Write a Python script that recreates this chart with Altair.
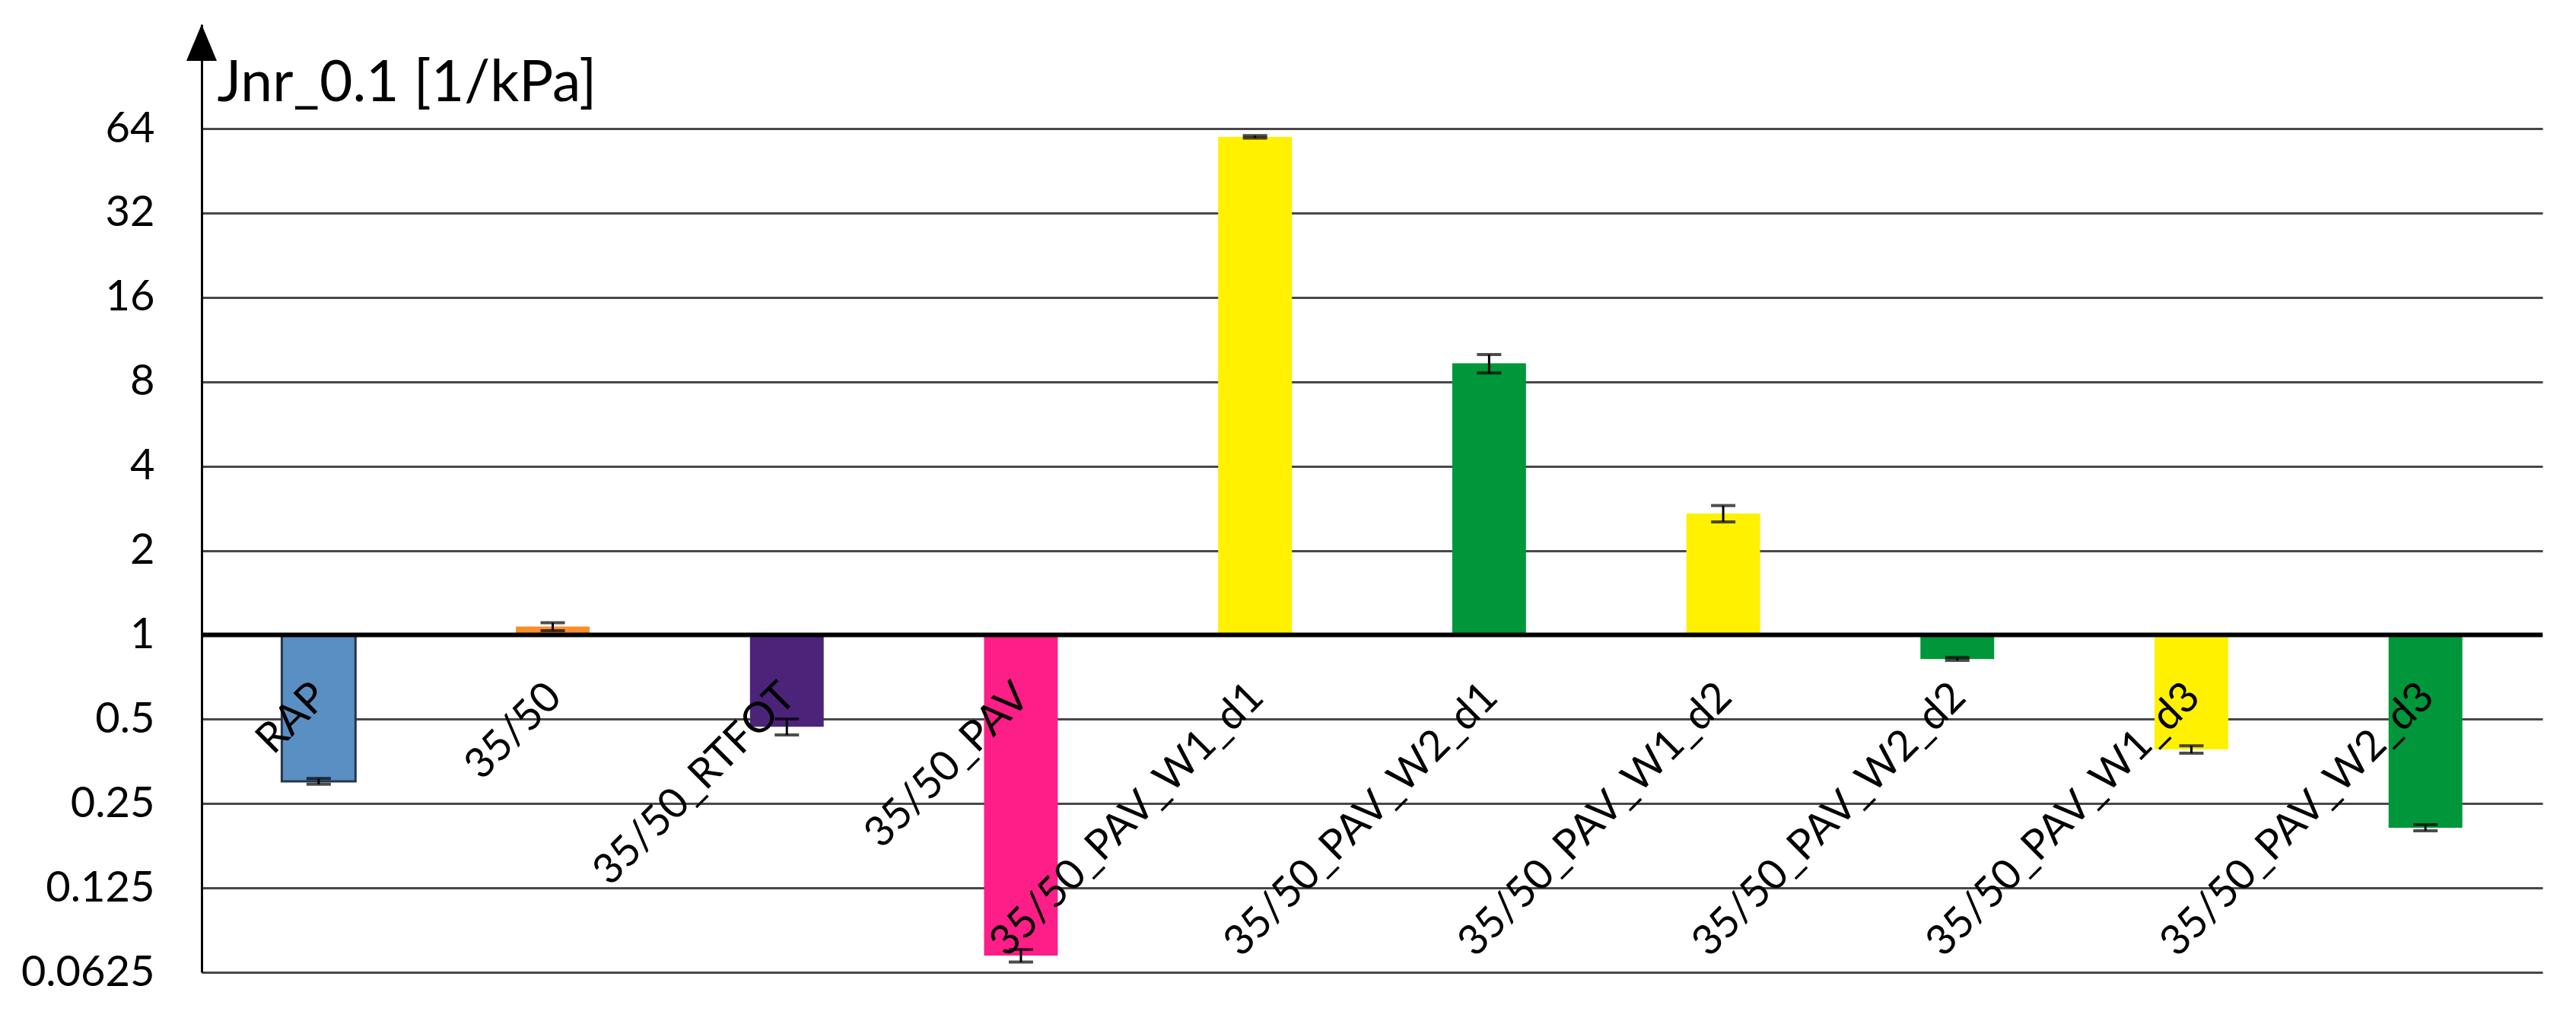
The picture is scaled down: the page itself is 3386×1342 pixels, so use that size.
import altair as alt
import pandas as pd

categories = ["RAP", "35/50", "35/50_RTFOT", "35/50_PAV", "35/50_PAV_W1_d1",
              "35/50_PAV_W2_d1", "35/50_PAV_W1_d2", "35/50_PAV_W2_d2",
              "35/50_PAV_W1_d3", "35/50_PAV_W2_d3"]
values = [0.300, 1.07, 0.47, 0.0717, 59.8, 9.3, 2.71, 0.82, 0.39, 0.205]
errors = [0.007, 0.035, 0.031, 0.0037, 0.6, 0.7, 0.18, 0.01, 0.012, 0.005]
colors = ["#5a8fc3", "#f7902c", "#4b2479", "#fe1e87", "#fff100",
          "#00963a", "#fff100", "#00963a", "#fff100", "#00963a"]
strokes = ["#26364a", "transparent", "transparent", "transparent", "transparent",
           "transparent", "transparent", "transparent", "transparent", "transparent"]
tick_values = [0.0625, 0.125, 0.25, 0.5, 1, 2, 4, 8, 16, 32, 64]
baseline_value = 1.0

df = pd.DataFrame({"cat": categories, "val": values, "err": errors,
                   "color": colors, "stroke": strokes})
df["lo"] = df["val"] - df["err"]
df["hi"] = df["val"] + df["err"]
df["base"] = baseline_value

one = pd.DataFrame({"one": [baseline_value]})

FONT = "Lato"
yscale = alt.Scale(type="log", base=2, domain=[0.0625, 150.7], nice=False)
yaxis = alt.Axis(values=tick_values, format="~g", ticks=False,
                 domain=True, domainColor="black", domainWidth=3,
                 grid=True, gridColor="#4b464b", gridWidth=3,
                 labelFont=FONT, labelFontSize=56, labelColor="black",
                 labelPadding=62, labelBaseline="middle",
                 title="Jnr_0.1 [1/kPa]", titleFont=FONT, titleFontSize=75,
                 titleFontWeight="normal", titleColor="black", titleAngle=0,
                 titleAlign="left", titleBaseline="alphabetic",
                 titleX=20, titleY=100)
xenc = alt.X("cat:N", sort=categories, axis=None,
             scale=alt.Scale(paddingInner=0.685, paddingOuter=0.3425))

base = alt.Chart(df)

bars = base.mark_bar(strokeWidth=3).encode(
    x=xenc,
    y=alt.Y("val:Q", scale=yscale, axis=yaxis),
    y2="base:Q",
    color=alt.Color("color:N", scale=None),
    stroke=alt.Stroke("stroke:N", scale=None),
)

err_rule = base.mark_rule(color="black", strokeWidth=3).encode(
    x=xenc, y=alt.Y("lo:Q", scale=yscale, axis=yaxis), y2="hi:Q")
cap_lo = base.mark_tick(color="black", thickness=4, size=32).encode(
    x=xenc, y=alt.Y("lo:Q", scale=yscale, axis=yaxis))
cap_hi = base.mark_tick(color="black", thickness=4, size=32).encode(
    x=xenc, y=alt.Y("hi:Q", scale=yscale, axis=yaxis))

one_line = alt.Chart(one).mark_rule(color="black", strokeWidth=6).encode(
    y=alt.Y("one:Q", scale=yscale, axis=yaxis))

labels = base.mark_text(align="right", baseline="alphabetic", angle=315,
                        font=FONT, fontSize=55, color="black",
                        dx=-50, dy=70).encode(
    x=xenc, y=alt.Y("base:Q", scale=yscale, axis=yaxis), text="cat:N")

arrow = alt.Chart(one).mark_point(
    shape="M0,-1.2L1,1.2L-1,1.2Z", size=1600, filled=True,
    color="black", opacity=1, strokeWidth=0).encode(
    x=alt.value(0), y=alt.value(24))

chart = alt.layer(bars, err_rule, cap_lo, cap_hi, one_line, labels, arrow).properties(
    width=3077, height=1246,
    autosize=alt.AutoSizeParams(type="none"),
    padding={"left": 257, "top": 24, "right": 36, "bottom": 56},
    background="white",
).configure_view(strokeWidth=0)

chart.save("out.html", embed_options={"renderer": "svg", "actions": False})
